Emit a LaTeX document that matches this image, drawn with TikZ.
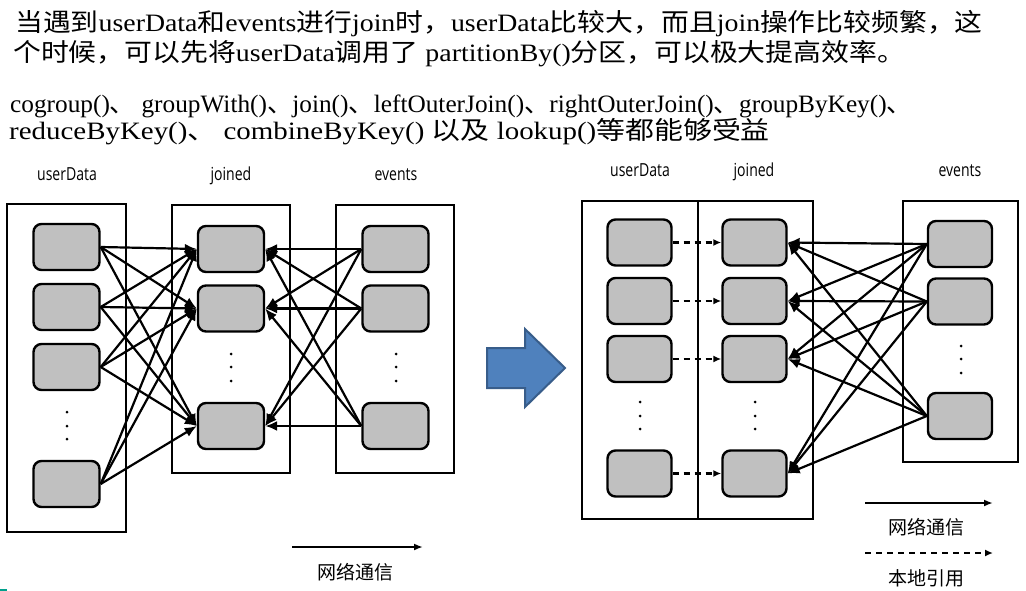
\documentclass[tikz,border=0pt]{standalone}
\usepackage{fontspec}
\usepackage{graphicx}
\setmainfont{Liberation Serif}
\newfontfamily\cjk{Noto Sans CJK SC}
\newfontfamily\lblfont{Open Sans}
\usetikzlibrary{arrows.meta}
\definecolor{nodegray}{RGB}{192,192,192}
\definecolor{arrowblue}{RGB}{79,129,189}
\definecolor{arrowedge}{RGB}{56,93,138}
\definecolor{tealmark}{RGB}{0,160,140}
\tikzset{
  blk/.style={draw=black, line width=2.4pt, fill=nodegray, rounded corners=8pt, minimum width=66pt, minimum height=46pt, inner sep=0pt},
  cont/.style={draw=black, line width=2.2pt, inner sep=0pt},
  edge/.style={line width=2.2pt, -{Latex[length=12pt,width=10pt]}},
  ledge/.style={line width=2.4pt, -{Latex[length=9pt,width=7pt]}},
  local/.style={line width=2.4pt, dash pattern=on 6pt off 5pt, -{Latex[length=8pt,width=7pt]}},
  txt/.style={inner sep=0pt, anchor=base west, font=\fontsize{25}{30}\selectfont},
  lbl/.style={inner sep=0pt, anchor=base, font=\fontsize{18}{20}\selectfont\lblfont},
  cn/.style={inner sep=0pt, anchor=center, font=\fontsize{19}{22}\selectfont\cjk},
  dot/.style={circle, fill=black, inner sep=0pt, minimum size=3pt}
}
\begin{document}
\begin{tikzpicture}[x=1pt,y=-1pt]
\useasboundingbox (0,0) rectangle (1026,591);
% text
\node[txt] (t1) at (15,32) {\scalebox{1.113}[1]{{\cjk 当遇到}userData{\cjk 和}events{\cjk 进行}join{\cjk 时，}userData{\cjk 比较大，而且}join{\cjk 操作比较频繁，这}}};
\node[txt] (t2) at (13,62) {\scalebox{1.114}[1]{{\cjk 个时候，可以先将}userData{\cjk 调用了} partitionBy(){\cjk 分区，可以极大提高效率。}}};
\node[txt] (t3) at (10,113) {\scalebox{1.012}[1]{cogroup(){\cjk 、} groupWith(){\cjk 、}join(){\cjk 、}leftOuterJoin(){\cjk 、}rightOuterJoin(){\cjk 、}groupByKey(){\cjk 、}}};
\node[txt] (t4) at (9,140) {\scalebox{1.157}[1]{reduceByKey(){\cjk 、} combineByKey() {\cjk 以及} lookup(){\cjk 等都能够受益}}};

% ---------- left diagram ----------
\node[cont, minimum width=119pt, minimum height=328pt] (LU) at (66.5,368) {};
\node[cont, minimum width=118pt, minimum height=268pt] (LJ) at (231,339) {};
\node[cont, minimum width=118pt, minimum height=268pt] (LE) at (395,339) {};
\node[lbl] (lul) at (67,181) {\scalebox{0.78}[1]{userData}};
\node[lbl] (ljl) at (231,181) {\scalebox{0.78}[1]{joined}};
\node[lbl] (lel) at (396,181) {\scalebox{0.78}[1]{events}};

\node[blk] (u1) at (66.5,247) {};
\node[blk] (u2) at (66.5,307) {};
\node[blk] (u3) at (66.5,367) {};
\node[blk] (u4) at (66.5,484) {};
\node[blk] (j1) at (231,249) {};
\node[blk] (j2) at (231,308.5) {};
\node[blk] (j3) at (231,426) {};
\node[blk] (e1) at (395.5,249) {};
\node[blk] (e2) at (395.5,308.5) {};
\node[blk] (e3) at (395.5,426) {};

\node[dot] (ud1) at (67,412) {};
\node[dot] (ud2) at (67,426) {};
\node[dot] (ud3) at (67,439) {};
\node[dot] (jd1) at (231,354) {};
\node[dot] (jd2) at (231,367) {};
\node[dot] (jd3) at (231,381) {};
\node[dot] (ed1) at (396,354) {};
\node[dot] (ed2) at (396,367) {};
\node[dot] (ed3) at (396,381) {};

\foreach \i in {1,...,4}{\foreach \j in {1,2,3}{\draw[edge] (u\i.east) -- (j\j.west);}}
\foreach \i in {1,2,3}{\foreach \j in {1,2,3}{\draw[edge] (e\i.west) -- (j\j.east);}}

\coordinate (la1) at (292,547);
\coordinate (la2) at (423,547);
\draw[ledge] (la1) -- (la2);
\node[cn] (lal) at (355,572) {网络通信};

% ---------- big arrow ----------
\draw[fill=arrowblue, draw=arrowedge, line width=2pt, line join=miter]
  (487,348) -- (525,348) -- (525,329) -- (565,368) -- (525,407) -- (525,388) -- (487,388) -- cycle;

% ---------- right diagram ----------
\node[cont, minimum width=116pt, minimum height=318pt] (RU) at (640,360) {};
\node[cont, minimum width=115pt, minimum height=318pt] (RJ) at (755.5,360) {};
\node[cont, minimum width=115pt, minimum height=261pt] (RE) at (960.5,331.5) {};
\node[lbl] (rul) at (640,177) {\scalebox{0.78}[1]{userData}};
\node[lbl] (rjl) at (754,177) {\scalebox{0.78}[1]{joined}};
\node[lbl] (rel) at (960,177) {\scalebox{0.78}[1]{events}};

\node[blk, minimum width=64pt] (ru1) at (639.5,242.5) {};
\node[blk, minimum width=64pt] (ru2) at (639.5,301) {};
\node[blk, minimum width=64pt] (ru3) at (639.5,359) {};
\node[blk, minimum width=64pt] (ru4) at (639.5,473.5) {};
\node[blk, minimum width=64pt] (rj1) at (754.5,242.5) {};
\node[blk, minimum width=64pt] (rj2) at (754.5,301) {};
\node[blk, minimum width=64pt] (rj3) at (754.5,359) {};
\node[blk, minimum width=64pt] (rj4) at (754.5,473.5) {};
\node[blk, minimum width=64pt] (re1) at (960,244) {};
\node[blk, minimum width=64pt] (re2) at (960,301.5) {};
\node[blk, minimum width=64pt] (re3) at (960,416) {};

\node[dot] (rud1) at (640,402) {};
\node[dot] (rud2) at (640,416) {};
\node[dot] (rud3) at (640,429) {};
\node[dot] (rjd1) at (755,402) {};
\node[dot] (rjd2) at (755,416) {};
\node[dot] (rjd3) at (755,429) {};
\node[dot] (red1) at (961,346) {};
\node[dot] (red2) at (961,359) {};
\node[dot] (red3) at (961,373) {};

\foreach \i in {1,...,4}{\draw[local] (ru\i.east) -- (rj\i.west);}
\foreach \i in {1,2,3}{\foreach \j in {1,...,4}{\draw[edge] (re\i.west) -- (rj\j.east);}}

\coordinate (ra1) at (865,503);
\coordinate (ra2) at (993,503);
\draw[ledge] (ra1) -- (ra2);
\node[cn] (ral) at (926,527) {网络通信};
\coordinate (rb1) at (865,553);
\coordinate (rb2) at (993,553);
\draw[local] (rb1) -- (rb2);
\node[cn] (rbl) at (926,578) {本地引用};

% small mark bottom-left
\fill[tealmark] (0,588.5) rectangle (7,591);
\end{tikzpicture}
\end{document}
